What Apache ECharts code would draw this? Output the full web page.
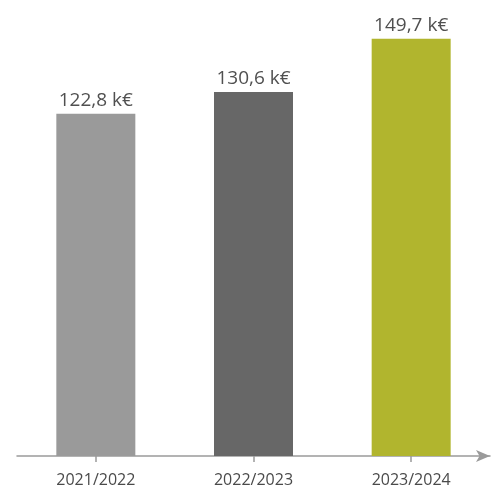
<!DOCTYPE html>
<html><head><meta charset="utf-8">
<script src="https://cdn.jsdelivr.net/npm/echarts@6/dist/echarts.min.js"></script>
<style>html,body{margin:0;padding:0;background:#fff}#c{width:495px;height:493px}</style>
</head><body><div id="c"></div>
<script>
const categories = ['2021/2022', '2022/2023', '2023/2024'];
const values = [122.8, 130.6, 149.7];
const barColors = ['#9a9a9a', '#676767', '#b1b52e'];
const fmt = v => v.toFixed(1).replace('.', ',') + ' k€';
const chart = echarts.init(document.getElementById('c'));
chart.setOption({
  animation: false,
  backgroundColor: '#ffffff',
  grid: { left: 17, right: 5, top: 10, bottom: 37 },
  xAxis: [{
    type: 'category', data: categories,
    axisLine: { show: true, symbol: ['none', 'arrow'], symbolSize: [9, 14], lineStyle: { color: '#9a9a9a', width: 1.5 } },
    axisTick: { show: true, alignWithLabel: true, length: 6, lineStyle: { color: '#9a9a9a', width: 1.5 } },
    axisLabel: { color: '#4a4a4a', fontSize: 16, margin: 16, fontFamily: 'Open Sans' }
  }, {
    type: 'category', data: categories, position: 'bottom',
    axisLine: { show: false },
    axisTick: { show: true, inside: true, alignWithLabel: true, length: 5, lineStyle: { color: '#9a9a9a', width: 1.5 } },
    axisLabel: { show: false }
  }],
  yAxis: { type: 'value', min: 0, max: 160, show: false, splitLine: { show: false } },
  series: [{
    type: 'bar', barWidth: 79,
    data: values.map((v, i) => ({ value: v, itemStyle: { color: barColors[i] } })),
    label: { show: true, position: 'top', distance: 4, color: '#505050', fontSize: 19, fontFamily: 'Open Sans', formatter: p => fmt(p.value) }
  }]
});
</script></body></html>
